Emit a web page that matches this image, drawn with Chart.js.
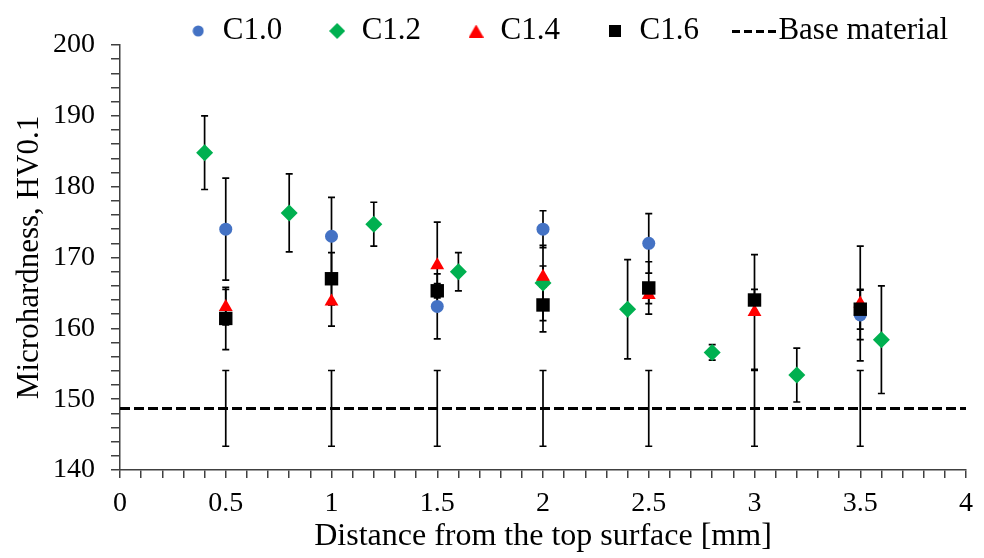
<!DOCTYPE html>
<html>
<head>
<meta charset="utf-8">
<script src="https://cdn.jsdelivr.net/npm/chart.js@4.4.1/dist/chart.umd.min.js"></script>
<style>
  html, body { margin: 0; padding: 0; background: #fff; }
  #wrap { width: 984px; height: 558px; }
</style>
</head>
<body>
<div id="wrap"><canvas id="hvChart" width="984" height="558"></canvas></div>
<script>
// distance from the top surface [mm] / microhardness HV0.1 / +- error
const xC10 = [0.5, 1, 1.5, 2, 2.5, 3.5];
const hvC10 = [174.0, 173.0, 163.1, 174.0, 172.0, 161.9];
const errC10 = [7.2, 5.5, 4.6, 2.6, 4.2, 3.5];

const xC12 = [0.4, 0.8, 1.2, 1.6, 2, 2.4, 2.8, 3.2, 3.6];
const hvC12 = [184.8, 176.3, 174.7, 168.0, 166.4, 162.7, 156.6, 153.4, 158.4];
const errC12 = [5.2, 5.5, 3.1, 2.7, 5.3, 7.0, 1.1, 3.8, 7.6];

const xC14 = [0.5, 1, 1.5, 2, 2.5, 3, 3.5];
const hvC14 = [163.0, 163.8, 168.9, 167.3, 164.7, 162.3, 163.5];
const errC14 = [2.5, 3.5, 6.1, 1.5, 1.2, 8.1, 8.1];

const xC16 = [0.5, 1, 1.5, 2, 2.5, 3, 3.5];
const hvC16 = [161.4, 167.0, 165.3, 163.3, 165.7, 164.0, 162.7];
const errC16 = [4.4, 3.7, 1.0, 3.8, 3.7, 1.5, 2.8];

const xBase = [0, 0.5, 1, 1.5, 2, 2.5, 3, 3.5, 4];
const hvBase = [148.7, 148.7, 148.7, 148.7, 148.7, 148.7, 148.7, 148.7, 148.7];
const errBase = [0, 5.35, 5.35, 5.35, 5.35, 5.35, 5.35, 5.35, 0];

const xTickLabels = ['0', '0.5', '1', '1.5', '2', '2.5', '3', '3.5', '4'];
const yTickLabels = ['140', '150', '160', '170', '180', '190', '200'];

const serif = "'Liberation Serif', 'Times New Roman', serif";

const pts = (xs, ys) => xs.map((x, i) => ({ x: x, y: ys[i] }));

// legend symbols drawn as small canvases so each can have its own size
function icon(w, h, color, draw) {
  const c = document.createElement('canvas');
  c.width = w;
  c.height = h;
  const g = c.getContext('2d');
  g.fillStyle = color;
  g.beginPath();
  draw(g, w, h);
  g.fill();
  return c;
}
const legendIcons = {
  'C1.0': icon(12, 12, '#4472C4', (g, w, h) => g.arc(w / 2, h / 2, 5.5, 0, Math.PI * 2)),
  'C1.2': icon(16, 16, '#00B050', (g, w, h) => {
    g.moveTo(w / 2, 0); g.lineTo(w, h / 2); g.lineTo(w / 2, h); g.lineTo(0, h / 2); g.closePath();
  }),
  'C1.4': icon(15, 13, '#FF0000', (g, w, h) => {
    g.moveTo(w / 2, 0); g.lineTo(w, h); g.lineTo(0, h); g.closePath();
  }),
  'C1.6': icon(12, 12, '#000000', (g, w, h) => g.rect(0, 0, w, h)),
  'Base material': icon(44, 3, '#000000', (g) => {
    for (let i = 0; i < 4; i++) g.rect(i * 12, 0, 8, 3);
  })
};

// vertical error bars with caps, drawn under the markers
const errorBars = {
  id: 'errorBars',
  beforeDatasetsDraw(chart) {
    const { ctx, scales: { x, y } } = chart;
    ctx.save();
    ctx.strokeStyle = '#000';
    ctx.lineWidth = 1.7;
    chart.data.datasets.forEach(ds => {
      if (!ds.errors) return;
      ds.data.forEach((p, i) => {
        const e = ds.errors[i];
        if (!e) return;
        const px = x.getPixelForValue(p.x);
        const top = y.getPixelForValue(p.y + e);
        const bot = y.getPixelForValue(p.y - e);
        ctx.beginPath();
        ctx.moveTo(px, top); ctx.lineTo(px, bot);
        ctx.moveTo(px - 3.5, top); ctx.lineTo(px + 3.5, top);
        ctx.moveTo(px - 3.5, bot); ctx.lineTo(px + 3.5, bot);
        ctx.stroke();
      });
    });
    ctx.restore();
  }
};

// keep the legend a thin strip above the plot
const legendTweak = {
  id: 'legendTweak',
  beforeLayout(chart) {
    const lg = chart.legend;
    if (lg && !lg._tweaked) {
      const fit = lg.fit;
      lg.fit = function () { fit.call(this); this.height = 45; };
      lg._tweaked = true;
    }
  },
  afterLayout(chart) {
    const lg = chart.legend;
    if (!lg) return;
    lg.top = 31 - 46 - 15.5;
    lg.right += 10;
  }
};

const ctx = document.getElementById('hvChart').getContext('2d');

new Chart(ctx, {
  type: 'scatter',
  data: {
    datasets: [
      {
        label: 'C1.0', data: pts(xC10, hvC10), errors: errC10, order: 4,
        pointStyle: 'circle', pointRadius: 6.5, pointBorderWidth: 0,
        backgroundColor: '#4472C4', borderColor: '#4472C4'
      },
      {
        label: 'C1.2', data: pts(xC12, hvC12), errors: errC12, order: 3,
        pointStyle: 'rectRot', pointRadius: 8.5, pointBorderWidth: 0,
        backgroundColor: '#00B050', borderColor: '#00B050'
      },
      {
        label: 'C1.4', data: pts(xC14, hvC14), errors: errC14, order: 2,
        pointStyle: 'triangle', pointRadius: 8, pointBorderWidth: 0,
        backgroundColor: '#FF0000', borderColor: '#FF0000'
      },
      {
        label: 'C1.6', data: pts(xC16, hvC16), errors: errC16, order: 1,
        pointStyle: 'rect', pointRadius: 9.5, pointBorderWidth: 0,
        backgroundColor: '#000000', borderColor: '#000000'
      },
      {
        label: 'Base material', data: pts(xBase, hvBase), errors: errBase, order: 5,
        showLine: true, pointRadius: 0, borderColor: '#000', backgroundColor: '#000',
        borderWidth: 3, borderDash: [10, 4]
      }
    ]
  },
  options: {
    responsive: false,
    animation: false,
    layout: { padding: 0 },
    plugins: {
      tooltip: { enabled: false },
      legend: {
        position: 'top',
        align: 'end',
        labels: {
          usePointStyle: true,
          boxWidth: 18,
          boxHeight: 10,
          padding: 46,
          color: '#000',
          font: { family: serif, size: 31 },
          sort: (a, b) => a.datasetIndex - b.datasetIndex,
          generateLabels(chart) {
            const items = Chart.defaults.plugins.legend.labels.generateLabels(chart);
            items.forEach(it => {
              if (legendIcons[it.text]) it.pointStyle = legendIcons[it.text];
            });
            return items;
          }
        }
      }
    },
    scales: {
      x: {
        type: 'linear',
        min: 0,
        max: 4,
        border: { color: '#404040', width: 1.5 },
        grid: { drawOnChartArea: false, drawTicks: true, tickLength: 8, color: '#404040', lineWidth: 1.5 },
        ticks: {
          stepSize: 0.1,
          autoSkip: false,
          maxRotation: 0,
          minRotation: 0,
          padding: 9,
          color: '#000',
          font: { family: serif, size: 28 },
          callback: v => {
            const t = Math.round(v * 10);
            return t % 5 === 0 ? xTickLabels[t / 5] : '';
          }
        },
        title: {
          display: true,
          text: 'Distance from the top surface [mm]',
          color: '#000',
          font: { family: serif, size: 32 },
          padding: { top: 0, bottom: 2 }
        },
        afterFit(s) { s.height = 88; s.paddingRight = 18; }
      },
      y: {
        type: 'linear',
        min: 140,
        max: 200,
        border: { color: '#404040', width: 1.5 },
        grid: { drawOnChartArea: false, drawTicks: true, tickLength: 9, color: '#404040', lineWidth: 1.5 },
        ticks: {
          stepSize: 2,
          autoSkip: false,
          padding: 16,
          color: '#000',
          font: { family: serif, size: 28 },
          callback: v => (v % 10 === 0 ? yTickLabels[(v - 140) / 10] : '')
        },
        title: {
          display: true,
          text: 'Microhardness, HV0.1',
          color: '#000',
          font: { family: serif, size: 31 },
          padding: { top: 11, bottom: 0 }
        },
        afterFit(s) { s.width = 120; }
      }
    }
  },
  plugins: [errorBars, legendTweak]
});
</script>
</body>
</html>
